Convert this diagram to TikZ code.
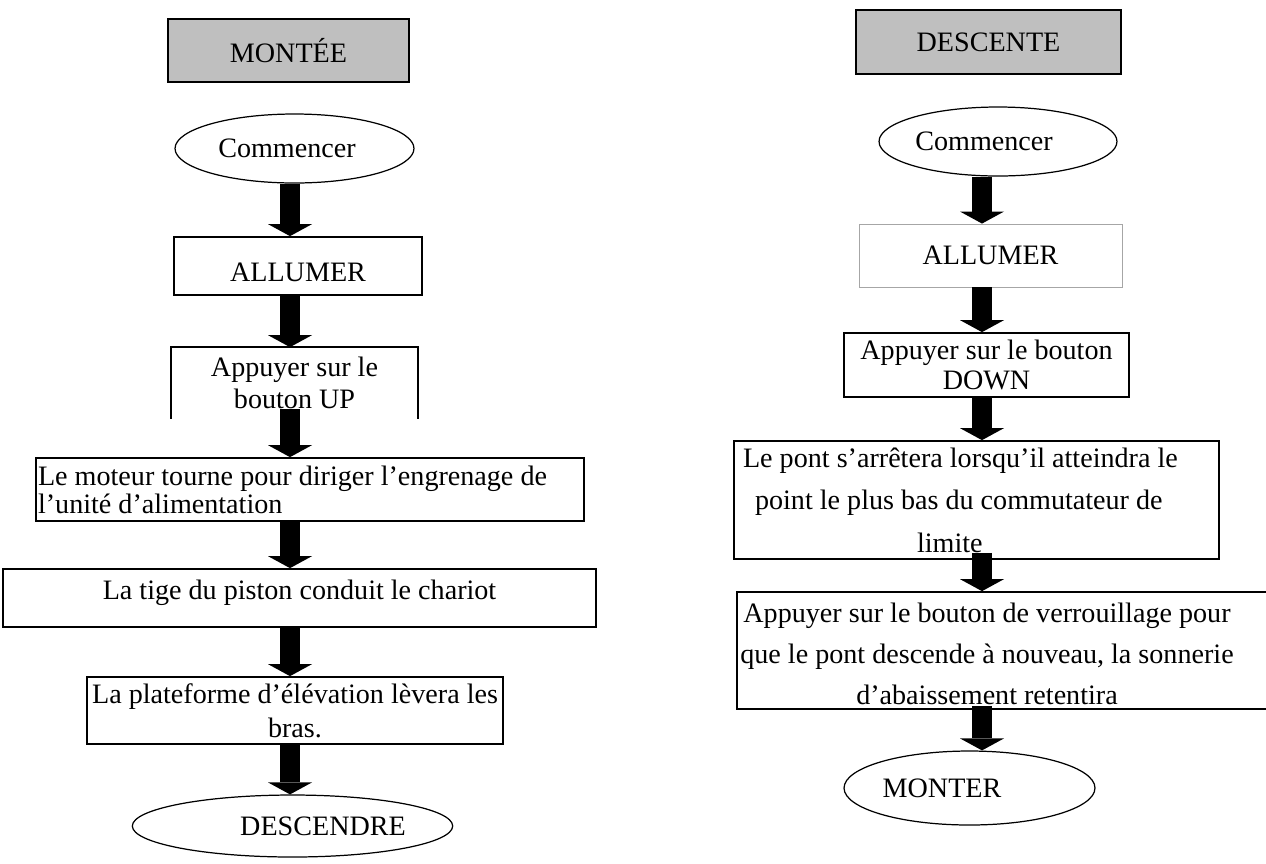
\documentclass[tikz,border=0pt]{standalone}
\usepackage{fontspec}
\setmainfont{Liberation Serif}
\usetikzlibrary{positioning, arrows.meta, shapes.geometric}

\begin{document}
\begin{tikzpicture}[
    x=0.02cm, y=-0.02cm,
    txt/.style={font=\fontsize{16}{19}\selectfont, text=black},
    title box/.style={txt, draw=black, line width=1pt, fill=black!25, inner sep=0pt},
    step box/.style={txt, draw=black, line width=1pt, inner sep=0pt, align=center},
    end oval/.style={txt, ellipse, draw=black, line width=0.7pt, inner sep=0pt},
    flow arrow/.style={line width=0.4cm, -{Triangle[width=0.88cm, length=0.24cm, line width=0pt]}}
]

\useasboundingbox (0,0) rectangle (1266,863);
\clip (0,0) rectangle (1266,863);

% arrow axes
\coordinate (axisL) at (290,0);
\coordinate (axisR) at (982,0);

% --- 1. Montée ---
\node[title box, minimum width=4.82cm, minimum height=1.26cm] (montee) at (288.5,50.5) {MONTÉE};
\node[end oval, minimum width=4.78cm, minimum height=1.38cm] (startL) at (294.5,148.5) {Commencer\hspace*{0.3cm}};
\node[step box, minimum width=4.96cm, minimum height=1.16cm, text height=0.61cm] (allumerL) at (298,266) {ALLUMER};

\node[step box, draw=none, minimum width=4.9cm, minimum height=1.4cm,
      font=\fontsize{16}{18.1}\selectfont] (up) at (294.5,383) {Appuyer sur le\\bouton UP};
% open at the bottom
\draw[line width=1pt] (up.south west) -- (up.north west) -- (up.north east) -- (up.south east);

\node[step box, minimum width=10.96cm, minimum height=1.26cm, inner xsep=0.04cm,
      text width=10.88cm, align=flush left, font=\fontsize{16}{15.9}\selectfont] (moteur) at (310,489.5)
      {Le moteur tourne pour diriger l’engrenage de\\l’unité d’alimentation};
\node[step box, minimum width=11.86cm, minimum height=1.16cm, text depth=0.32cm] (piston) at (299.5,598)
      {La tige du piston conduit le chariot};
\node[step box, minimum width=8.32cm, minimum height=1.34cm,
      font=\fontsize{16}{19.3}\selectfont] (plate) at (295,710.5)
      {La plateforme d’élévation lèvera les\\bras.};
\node[end oval, minimum width=5.74cm, minimum height=1.24cm] (descendre) at (292.5,826) {\hspace*{1.22cm}DESCENDRE};

% --- 2. Descente ---
\node[title box, minimum width=5.3cm, minimum height=1.28cm] (descente) at (988.5,42) {DESCENTE};
\node[end oval, minimum width=4.76cm, minimum height=1.38cm] (startR) at (998,141.5) {Commencer\hspace*{0.56cm}};
\node[step box, draw=black!35, line width=0.5pt, minimum width=5.26cm, minimum height=1.26cm] (allumerR) at (990.5,255.5) {ALLUMER};
\node[step box, minimum width=5.7cm, minimum height=1.28cm,
      font=\fontsize{16}{17}\selectfont] (down) at (986.5,365) {Appuyer sur le bouton\\DOWN};
\node[step box, minimum width=9.7cm, minimum height=2.36cm, inner xsep=0.18cm,
      text width=9.34cm, align=flush left, font=\fontsize{16}{24.1}\selectfont] (pont) at (976.5,500)
      {Le pont s’arrêtera lorsqu’il atteindra le\\\hspace*{0.24cm}point le plus bas du commutateur de\\\hspace*{3.48cm}limite};
\node[step box, minimum width=11.06cm, minimum height=2.34cm] (lock) at (1013.5,650.5) {};
\node[txt, align=center, font=\fontsize{16}{23.2}\selectfont] (locktext) at (987,654)
      {Appuyer sur le bouton de verrouillage pour\\que le pont descende à nouveau, la sonnerie\\d’abaissement retentira};
\node[end oval, minimum width=5.02cm, minimum height=1.48cm] (monter) at (969.5,788) {MONTER\hspace*{1.1cm}};

% --- 3. Arrows ---
\coordinate (upout) at ([yshift=0.2cm]up.south);
\coordinate (pontout) at ([yshift=0.14cm]pont.south);
\coordinate (lockout) at ([yshift=0.08cm]lock.south);

\draw[flow arrow] (startL.south -| axisL) -- (allumerL.north -| axisL);
\draw[flow arrow] (allumerL.south -| axisL) -- (up.north -| axisL);
\draw[flow arrow] (upout -| axisL) -- (moteur.north -| axisL);
\draw[flow arrow] (moteur.south -| axisL) -- (piston.north -| axisL);
\draw[flow arrow] (piston.south -| axisL) -- (plate.north -| axisL);
\draw[flow arrow] (plate.south -| axisL) -- (descendre.north -| axisL);

\draw[flow arrow] (startR.south -| axisR) -- (allumerR.north -| axisR);
\draw[flow arrow] (allumerR.south -| axisR) -- (down.north -| axisR);
\draw[flow arrow] (down.south -| axisR) -- (pont.north -| axisR);
\draw[flow arrow] (pontout -| axisR) -- (lock.north -| axisR);
\draw[flow arrow] (lockout -| axisR) -- (monter.north -| axisR);

\end{tikzpicture}
\end{document}
